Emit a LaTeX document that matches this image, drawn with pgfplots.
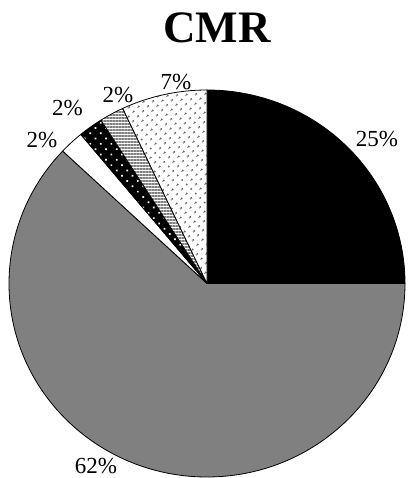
\documentclass[border=0pt]{standalone}
\usepackage{pgfplots}
\pgfplotsset{compat=1.18}
\usepackage{pgfplotstable}
\usetikzlibrary{patterns.meta}
\usepackage{fontspec}
\setmainfont{Liberation Serif}

% share in percent, label position (pt from centre), look of the slice
\pgfplotstableread{
share lx     ly     look
25    170    144.5  solidblack
62    -111   -183   solidgray
2     -165   143.5  plainwhite
2     -139.5 175.5  blackdots
2     -89    188    graylines
7     -31    201    graydots
}\pietable

\definecolor{piegray}{HTML}{808080}
\definecolor{dotgray}{HTML}{5A5A5A}
\tikzset{
  solidblack/.style={fill=black},
  solidgray/.style={fill=piegray},
  plainwhite/.style={fill=white},
  blackdots/.style={preaction={fill=black},
    pattern={Dots[distance=7.5pt, angle=45, radius=1.2pt]}, pattern color=white},
  graylines/.style={preaction={fill=white},
    pattern={Lines[distance=3pt, angle=0, line width=1.4pt]}, pattern color=piegray},
  graydots/.style={preaction={fill=white},
    pattern={Dots[distance=6.5pt, angle=45, radius=1.2pt]}, pattern color=dotgray},
}
\newcommand\pieRx{198}
\newcommand\pieRy{193.5}

\begin{document}
\begin{tikzpicture}
\begin{axis}[
    x=1pt, y=1pt,
    xmin=-207, xmax=201,
    ymin=-194.5, ymax=283.5,
    hide axis, clip=false,
]
\coordinate (bl) at (axis cs:-207,-194.5);
\coordinate (tr) at (axis cs:201,283.5);
\pgfplotsextra{
  \def\angA{90}
  \pgfplotsforeachungrouped \i in {0,...,5}{
    \pgfplotstablegetelem{\i}{share}\of\pietable \let\share\pgfplotsretval
    \pgfplotstablegetelem{\i}{look}\of\pietable \let\look\pgfplotsretval
    \pgfplotstablegetelem{\i}{lx}\of\pietable \let\lx\pgfplotsretval
    \pgfplotstablegetelem{\i}{ly}\of\pietable \let\ly\pgfplotsretval
    \pgfmathsetmacro\angB{\angA-3.6*\share}
    \edef\wedge{\noexpand\filldraw[\look, draw=black, line width=0.8pt, line join=round]
      (axis cs:0,0) -- (axis cs:{\pieRx*cos(\angA)},{\pieRy*sin(\angA)})
      arc[start angle=\angA, end angle=\angB, x radius=\pieRx pt, y radius=\pieRy pt] -- cycle;}
    \wedge
    \node[font=\fontsize{23}{23}\selectfont, inner sep=0pt] at (axis cs:\lx,\ly) {\share\%};
    \let\angA\angB
  }
  \node[font=\fontsize{45}{45}\selectfont\bfseries, inner sep=0pt] at (axis cs:10,256) {CMR};
}
\end{axis}
\pgfresetboundingbox
\useasboundingbox (bl) rectangle (tr);
\end{tikzpicture}
\end{document}
